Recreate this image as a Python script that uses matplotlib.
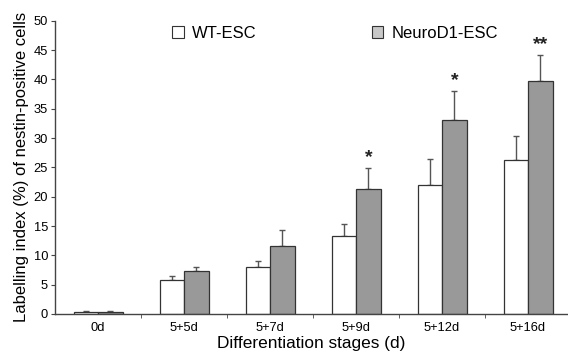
import numpy as np
import matplotlib
matplotlib.use("Agg")
import matplotlib.pyplot as plt
from matplotlib.patches import Patch

stages = ['0d', '5+5d', '5+7d', '5+9d', '5+12d', '5+16d']
wt = [0.4, 5.8, 8.1, 13.3, 22.0, 26.2]
wt_err = [0.1, 0.7, 0.9, 2.0, 4.4, 4.1]
nd1 = [0.4, 7.3, 11.6, 21.4, 33.1, 39.8]
nd1_err = [0.1, 0.8, 2.7, 3.5, 4.9, 4.4]
stars = ['', '', '', '*', '*', '**']

plt.rcParams['font.family'] = ['Liberation Sans', 'DejaVu Sans']

fig = plt.figure(figsize=(5.68, 3.53), dpi=100)
ax = fig.add_axes([0.097, 0.1105, 0.903, 0.8305])

x = np.arange(len(stages))
w = 0.285
ax.bar(x - w/2, wt, w, color='white', edgecolor='#333333', linewidth=0.9, zorder=2)
ax.bar(x + w/2, nd1, w, color='#999999', edgecolor='#333333', linewidth=0.9, zorder=2)
ax.errorbar(x - w/2, wt, yerr=[np.zeros(len(wt)), wt_err], fmt='none',
            ecolor='#555555', elinewidth=1, capsize=2.5, capthick=1, zorder=1)
ax.errorbar(x + w/2, nd1, yerr=[np.zeros(len(nd1)), nd1_err], fmt='none',
            ecolor='#555555', elinewidth=1, capsize=2.5, capthick=1, zorder=1)

for i, s in enumerate(stars):
    if s:
        ax.text(x[i] + w/2, nd1[i] + nd1_err[i] + 0.3, s, ha='center', va='bottom',
                fontsize=14, fontweight='bold', color='#222222')

ax.set_xlim(-0.5, 5.465)
ax.set_ylim(0, 50)
ax.set_yticks(np.arange(0, 51, 5))
ax.set_xticks(x)
ax.set_xticklabels(stages, fontsize=9.3)
ax.set_xticks(x[:-1] + 0.5, minor=True)
ax.tick_params(axis='x', which='major', length=0, pad=6)
ax.tick_params(axis='x', which='minor', length=3, direction='out', color='#444444')
ax.tick_params(axis='y', labelsize=9.3, length=3, direction='out', color='#444444', pad=2)
for sp in ['top', 'right']:
    ax.spines[sp].set_visible(False)
for sp in ['left', 'bottom']:
    ax.spines[sp].set_color('#444444')
    ax.spines[sp].set_linewidth(1)

ax.set_ylabel('Labelling index (%) of nestin-positive cells', fontsize=12, labelpad=3)
ax.set_xlabel('Differentiation stages (d)', fontsize=12.4, labelpad=1)

handles = [Patch(facecolor='white', edgecolor='#333333', linewidth=0.8, label='WT-ESC'),
           Patch(facecolor='#c8c8c8', edgecolor='#333333', linewidth=0.8, label='NeuroD1-ESC')]
ax.legend(handles=handles, ncol=2, frameon=False, fontsize=12, handlelength=0.7,
          handleheight=0.7, handletextpad=0.5, columnspacing=6.9,
          loc='upper left', bbox_to_anchor=(0.199, 1.035))

fig.savefig('out.png', dpi=100)
